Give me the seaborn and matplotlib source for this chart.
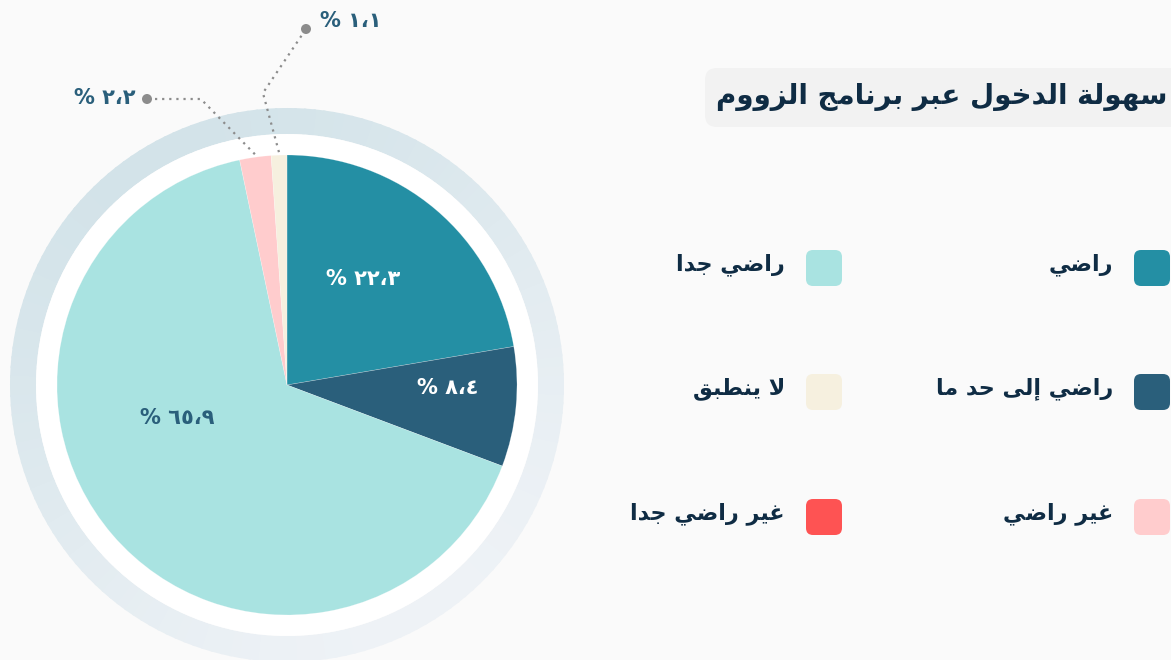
import numpy as np
import matplotlib
matplotlib.use("Agg")
import matplotlib.pyplot as plt
from matplotlib.patches import Wedge, Circle, FancyBboxPatch
import matplotlib.colors as mcolors
import seaborn as sns

# ---------------- data ----------------
title_text = "سهولة الدخول عبر برنامج الزووم"
categories = ["راضي", "راضي إلى حد ما", "راضي جدا", "غير راضي", "لا ينطبق", "غير راضي جدا"]
values = [22.3, 8.4, 65.9, 2.2, 1.1, 0.0]
colors = ["#248fa4", "#2a5f7b", "#a9e3e1", "#ffcccd", "#f6f0df", "#fe5353"]
legend_order = ["راضي", "راضي جدا", "راضي إلى حد ما", "لا ينطبق", "غير راضي", "غير راضي جدا"]

# ---------------- minimal Arabic shaping ----------------
FORMS = {
    '\u0627': ('\uFE8D', '\uFE8E', None, None),
    '\u0625': ('\uFE87', '\uFE88', None, None),
    '\u0628': ('\uFE8F', '\uFE90', '\uFE91', '\uFE92'),
    '\u0629': ('\uFE93', '\uFE94', None, None),
    '\u062C': ('\uFE9D', '\uFE9E', '\uFE9F', '\uFEA0'),
    '\u062D': ('\uFEA1', '\uFEA2', '\uFEA3', '\uFEA4'),
    '\u062E': ('\uFEA5', '\uFEA6', '\uFEA7', '\uFEA8'),
    '\u062F': ('\uFEA9', '\uFEAA', None, None),
    '\u0631': ('\uFEAD', '\uFEAE', None, None),
    '\u0632': ('\uFEAF', '\uFEB0', None, None),
    '\u0633': ('\uFEB1', '\uFEB2', '\uFEB3', '\uFEB4'),
    '\u0636': ('\uFEBD', '\uFEBE', '\uFEBF', '\uFEC0'),
    '\u0637': ('\uFEC1', '\uFEC2', '\uFEC3', '\uFEC4'),
    '\u0639': ('\uFEC9', '\uFECA', '\uFECB', '\uFECC'),
    '\u063A': ('\uFECD', '\uFECE', '\uFECF', '\uFED0'),
    '\u0642': ('\uFED5', '\uFED6', '\uFED7', '\uFED8'),
    '\u0644': ('\uFEDD', '\uFEDE', '\uFEDF', '\uFEE0'),
    '\u0645': ('\uFEE1', '\uFEE2', '\uFEE3', '\uFEE4'),
    '\u0646': ('\uFEE5', '\uFEE6', '\uFEE7', '\uFEE8'),
    '\u0647': ('\uFEE9', '\uFEEA', '\uFEEB', '\uFEEC'),
    '\u0648': ('\uFEED', '\uFEEE', None, None),
    '\u0649': ('\uFEEF', '\uFEF0', None, None),
    '\u064A': ('\uFEF1', '\uFEF2', '\uFEF3', '\uFEF4'),
}
LAM_ALEF = {'\u0627': ('\uFEFB', '\uFEFC'), '\u0625': ('\uFEF9', '\uFEFA')}


def shape(text):
    tokens = []
    i = 0
    while i < len(text):
        c = text[i]
        if c == '\u0644' and i + 1 < len(text) and text[i + 1] in LAM_ALEF:
            tokens.append(('LA', text[i + 1]))
            i += 2
        else:
            tokens.append(c)
            i += 1

    def is_ar(t):
        return isinstance(t, tuple) or t in FORMS

    def joins_next(t):
        return (not isinstance(t, tuple)) and t in FORMS and FORMS[t][2] is not None

    res = []
    for k, t in enumerate(tokens):
        prev = tokens[k - 1] if k > 0 else None
        nxt = tokens[k + 1] if k + 1 < len(tokens) else None
        cp = prev is not None and joins_next(prev)
        if isinstance(t, tuple):
            iso, fin = LAM_ALEF[t[1]]
            res.append(fin if cp else iso)
            continue
        if t not in FORMS:
            res.append(t)
            continue
        iso, fin, ini, med = FORMS[t]
        cn = ini is not None and nxt is not None and is_ar(nxt)
        if cp and cn:
            res.append(med)
        elif cp:
            res.append(fin)
        elif cn:
            res.append(ini)
        else:
            res.append(iso)
    return ''.join(reversed(res))


AR_DIGITS = str.maketrans("0123456789.", "٠١٢٣٤٥٦٧٨٩،")


def pct_label(v):
    return "% " + f"{v:.1f}".translate(AR_DIGITS)


# ---------------- figure ----------------
sns.set_theme(style="white")
plt.rcParams['font.family'] = ['DejaVu Sans']
BG = "#fafafa"
fig = plt.figure(figsize=(11.71, 6.6), dpi=100, facecolor=BG)
ax = fig.add_axes([0, 0, 1, 1])
ax.set_facecolor(BG)

H = 660
cx, cy = 287, H - 385
R = 230

# outer decorative gradient ring
c1 = np.array(mcolors.to_rgb("#d3e3e9"))
c2 = np.array(mcolors.to_rgb("#eef2f6"))
for a in range(0, 360, 2):
    t = (1 - np.cos(np.radians(a + 1 - 120))) / 2
    col = c1 * (1 - t) + c2 * t
    ax.add_patch(Wedge((cx, cy), 277, a, a + 2.5, width=26, facecolor=col, edgecolor='none', zorder=1))
ax.add_patch(Circle((cx, cy), 251, facecolor="white", edgecolor='none', zorder=1.5))

# pie (zero-valued slice is skipped by drawing only positive values)
pv = [v for v in values if v > 0]
pc = [c for v, c in zip(values, colors) if v > 0]
wedges, _ = ax.pie(pv, colors=pc, startangle=90, counterclock=False,
                   center=(cx, cy), radius=R, frame=True,
                   wedgeprops=dict(linewidth=0.4, edgecolor=(1, 1, 1, 0.35), zorder=2))

# labels
label_dark = "#2a5f7b"
inside_style = {0: (0.57, 4.5, "white"), 1: (0.70, 4.5, "white"), 2: (0.50, -24, label_dark)}
for i, (w, v) in enumerate(zip(wedges, pv)):
    mid = (w.theta1 + w.theta2) / 2
    if i in inside_style:
        frac, dang, col = inside_style[i]
        a = np.radians(mid + dang)
        ax.text(cx + frac * R * np.cos(a), cy + frac * R * np.sin(a), pct_label(v),
                ha='center', va='center', fontsize=15, fontweight='bold', color=col, zorder=5)

# outside labels with dotted leaders
lead_col = "#8c8c8c"
w3, w4 = wedges[3], wedges[4]
# 2.2 %
a3 = np.radians((w3.theta1 + w3.theta2) / 2)
p0 = (cx + (R + 3) * np.cos(a3), cy + (R + 3) * np.sin(a3))
p1 = (p0[0] - 54, H - 99)
p2 = (147, H - 99)
ax.plot([p0[0], p1[0], p2[0]], [p0[1], p1[1], p2[1]], ls=(0, (1, 2.2)), lw=1.6, color=lead_col, zorder=4)
ax.add_patch(Circle(p2, 5, facecolor=lead_col, edgecolor='none', zorder=5))
ax.text(p2[0] - 12, p2[1] + 1, pct_label(pv[3]), ha='right', va='center',
        fontsize=15, fontweight='bold', color=label_dark, zorder=5)
# 1.1 %
a4 = np.radians((w4.theta1 + w4.theta2) / 2)
q0 = (cx + (R + 3) * np.cos(a4), cy + (R + 3) * np.sin(a4))
q1 = (q0[0] - 16, H - 93)
q2 = (306, H - 29)
ax.plot([q0[0], q1[0], q2[0]], [q0[1], q1[1], q2[1]], ls=(0, (1, 2.2)), lw=1.6, color=lead_col, zorder=4)
ax.add_patch(Circle(q2, 5, facecolor=lead_col, edgecolor='none', zorder=5))
ax.text(q2[0] + 14, H - 21, pct_label(pv[4]), ha='left', va='center',
        fontsize=15, fontweight='bold', color=label_dark, zorder=5)

# title box
ax.add_patch(FancyBboxPatch((705, H - 127), 520, 59, boxstyle="round,pad=0,rounding_size=12",
                            facecolor="#f2f2f2", edgecolor='none', zorder=1))
ax.text(716, H - 97, shape(title_text), ha='left', va='center', fontsize=20,
        fontweight='bold', color="#0f2c44", zorder=3)

# legend (RTL two columns)
col_box_x = [1134, 806]
row_y = [268, 392, 517]
cmap = dict(zip(categories, colors))
for k, name in enumerate(legend_order):
    r, c = divmod(k, 2)
    bx = col_box_x[c]
    by = H - row_y[r]
    ax.add_patch(FancyBboxPatch((bx, by - 18), 36, 36, boxstyle="round,pad=0,rounding_size=7",
                                facecolor=cmap[name], edgecolor='none', zorder=3))
    ax.text(bx - 21, by + 3, shape(name), ha='right', va='center', fontsize=16,
            fontweight='bold', color="#0f2c44", zorder=3)

ax.set_xlim(0, 1171)
ax.set_ylim(0, H)
ax.set_aspect('equal')
ax.axis('off')

fig.savefig("out.png", dpi=100, facecolor=BG)
